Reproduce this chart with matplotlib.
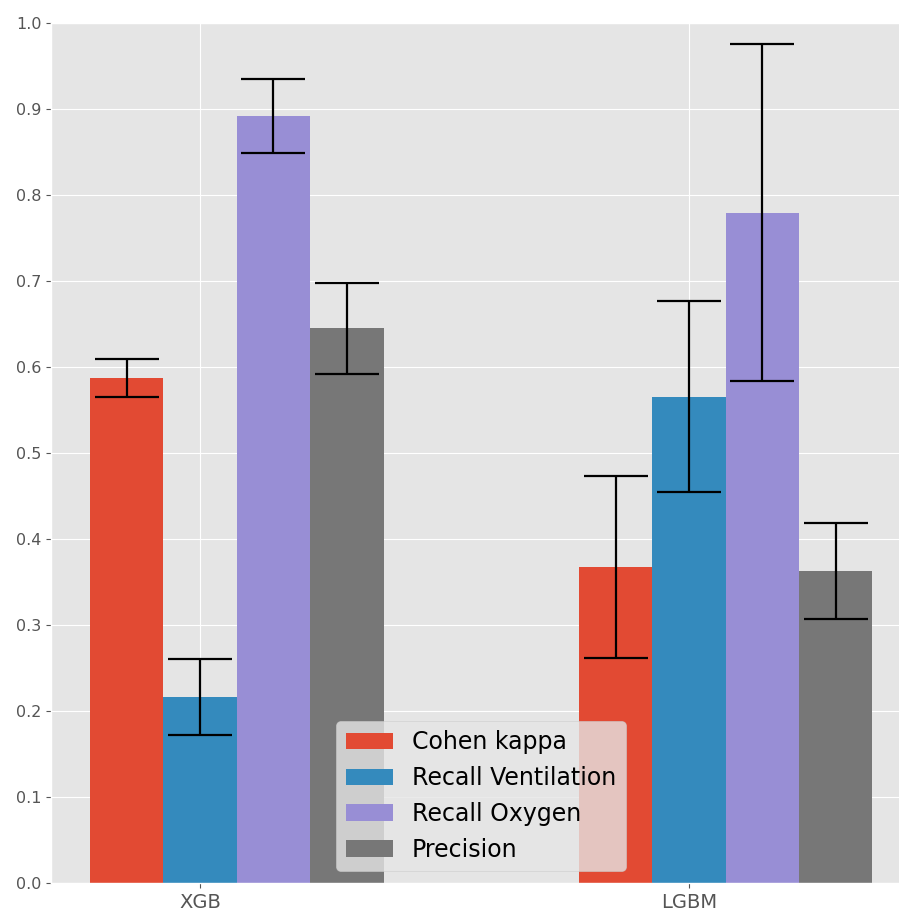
import matplotlib
matplotlib.use("Agg")
import matplotlib.pyplot as plt
import numpy as np

plt.style.use("ggplot")

models = ["XGB", "LGBM"]
metrics = ["Cohen kappa", "Recall Ventilation", "Recall Oxygen", "Precision"]
cohen_kappa = [0.587, 0.367]
cohen_kappa_err = [0.022, 0.106]
recall_ventilation = [0.216, 0.565]
recall_ventilation_err = [0.044, 0.111]
recall_oxygen = [0.892, 0.779]
recall_oxygen_err = [0.043, 0.196]
precision = [0.645, 0.363]
precision_err = [0.053, 0.056]

values = [cohen_kappa, recall_ventilation, recall_oxygen, precision]
errors = [cohen_kappa_err, recall_ventilation_err, recall_oxygen_err, precision_err]
colors = ["#E24A33", "#348ABD", "#988ED5", "#777777"]

W, H, DPI = 899, 911, 100
fig = plt.figure(figsize=(W / DPI, H / DPI), dpi=DPI)
left, bottom, top = 51, 28, 22.7
ax_w = 860.6
ax = fig.add_axes([left / W, bottom / H, ax_w / W, (H - bottom - top) / H])

x = np.arange(len(models))
width = 0.15
offsets = [-0.15, 0.0, 0.15, 0.30]
for vals, errs, off, col, lab in zip(values, errors, offsets, colors, metrics):
    ax.bar(x + off, vals, width, yerr=errs, color=col, label=lab,
           error_kw=dict(ecolor="black", elinewidth=1.6, capsize=23, capthick=1.6))

ax.set_xticks(x)
ax.set_xticklabels(models, fontsize=14)
ax.set_ylim(0, 1.0)
ax.set_yticks(np.arange(0, 1.01, 0.1))
ax.tick_params(axis="y", labelsize=11.5)
ax.tick_params(axis="both", colors="#555555")
ax.set_xlim(-0.305, 1.455)
ax.legend(loc="lower center", fontsize=17, bbox_to_anchor=((481 - left) / ax_w, 0))

fig.savefig("out.png", dpi=DPI)
